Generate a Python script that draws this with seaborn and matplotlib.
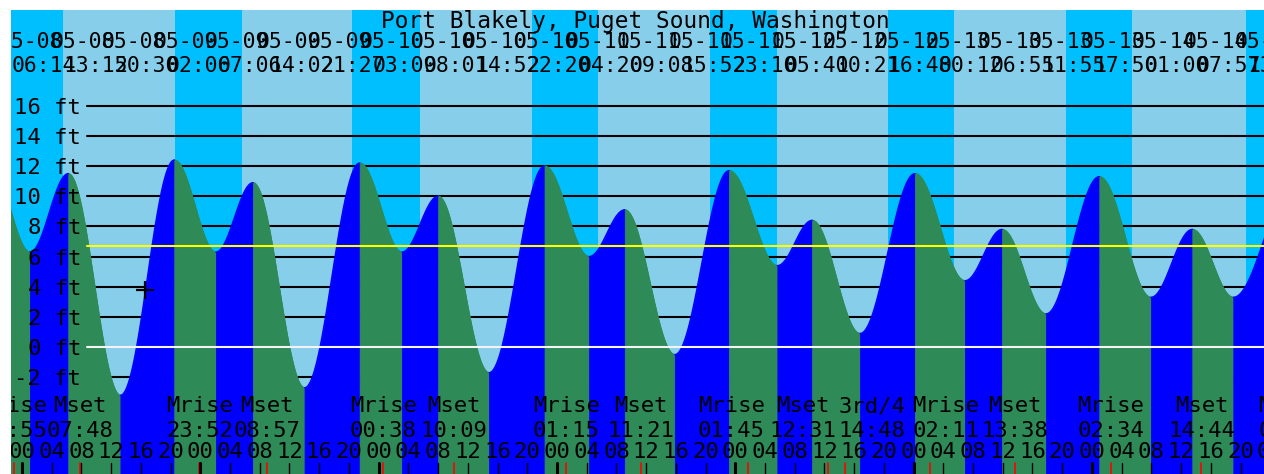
import numpy as np
import pandas as pd
import matplotlib
matplotlib.use("Agg")
import matplotlib.pyplot as plt
import matplotlib.transforms as mtrans
import seaborn as sns

# ---------------- data ----------------
station = "Port Blakely, Puget Sound, Washington"

# tide extremes (first and last lie just outside the plotted window)
tide_dates = ["05-07", "05-08", "05-08", "05-08", "05-08", "05-09", "05-09", "05-09",
              "05-09", "05-10", "05-10", "05-10", "05-10", "05-11", "05-11", "05-11",
              "05-11", "05-12", "05-12", "05-12", "05-13", "05-13", "05-13", "05-13",
              "05-14", "05-14", "05-14", "05-14", "05-15"]
tide_times = ["19:30", "01:05", "06:14", "13:15", "20:30", "02:06", "07:06", "14:02",
              "21:27", "03:09", "08:01", "14:52", "22:20", "04:20", "09:08", "15:52",
              "23:10", "05:40", "10:21", "16:48", "00:12", "06:55", "11:55", "17:50",
              "01:00", "07:57", "13:31", "19:02", "03:18"]
tide_heights = [12.5, 6.3, 11.5, -3.2, 12.4, 6.3, 10.9, -2.7,
                12.2, 6.3, 10.0, -1.7, 12.0, 6.0, 9.1, -0.5,
                11.7, 5.4, 8.4, 0.9, 11.5, 4.4, 7.8, 2.2,
                11.3, 3.3, 7.8, 3.3, 11.0]
# events whose date/time label is printed along the top (High 05-08 06:14 .. High 05-14 13:31)
labelled_first, labelled_last = 2, 26

moon_dates = ["05-07", "05-08", "05-08", "05-09", "05-10", "05-10", "05-11", "05-11",
              "05-12", "05-12", "05-12", "05-13", "05-13", "05-14", "05-14", "05-15"]
moon_times = ["22:55", "07:48", "23:52", "08:57", "00:38", "10:09", "01:15", "11:21",
              "01:45", "12:31", "14:48", "02:11", "13:38", "02:34", "14:44", "02:56"]
moon_events = ["Mrise", "Mset", "Mrise", "Mset", "Mrise", "Mset", "Mrise", "Mset",
               "Mrise", "Mset", "3rd/4", "Mrise", "Mset", "Mrise", "Mset", "Mrise"]

sun_dates = ["05-08", "05-09", "05-10", "05-11", "05-12", "05-13", "05-14"]
sunrise_times = ["05:31", "05:34", "05:34", "05:29", "05:38", "05:29", "05:22"]
sunset_times = ["20:35", "20:27", "20:36", "20:36", "20:36", "20:28", "20:42"]

level_ticks = [16, 14, 12, 10, 8, 6, 4, 2, 0, -2]
mean_level = 6.72
hour_labels = ["00", "04", "08", "12", "16", "20"]
mark_date, mark_time, mark_height = "05-08", "16:33", 3.8

# ---------------- helpers ----------------
def hrs(d, tm):
    day = int(d[3:])
    h, m = tm.split(":")
    return (day - 8) * 24 + int(h) + int(m) / 60.0

ev_t = np.array([hrs(d, t) for d, t in zip(tide_dates, tide_times)])
ev_h = np.array(tide_heights, dtype=float)

def curve_at(t):
    i = np.searchsorted(ev_t, t) - 1
    t0, t1, h0, h1 = ev_t[i], ev_t[i + 1], ev_h[i], ev_h[i + 1]
    ph = (t - t0) / (t1 - t0)
    return h0 + (h1 - h0) * (1 - np.cos(np.pi * ph)) / 2

# ---------------- figure ----------------
W, H = 1264, 474
sns.set_theme(style="white")
plt.rcParams["font.family"] = ["DejaVu Sans Mono", "DejaVu Sans"]
plt.rcParams["text.color"] = "black"

fig = plt.figure(figsize=(W / 100, H / 100), dpi=100)
ax_left, ax_top = 11, 10
AW, AH = W - ax_left, H - ax_top
ax = fig.add_axes([ax_left / W, 0, AW / W, AH / H])

DAY = "#87CEEB"
NIGHT = "#00BFFF"
FLOOD = "#0000FF"
EBB = "#2E8B57"

x0, x1 = -1.48, 167.16
y0, y1 = -8.42, 22.35
ax.set_facecolor(DAY)

def yfrac(ypx):
    return (H - ypx) / AH

def xfrac(xpx):
    return (xpx - ax_left) / AW

# night shading
sr = [hrs(d, t) for d, t in zip(sun_dates, sunrise_times)]
ss = [hrs(d, t) for d, t in zip(sun_dates, sunset_times)]
nights = [(x0 - 5, sr[0])] + [(ss[i], sr[i + 1]) for i in range(len(ss) - 1)] + [(ss[-1], x1 + 5)]
for a, b in nights:
    ax.axvspan(a, b, color=NIGHT, lw=0, zorder=0)

# grid lines (behind the water)
gx = xfrac(87)
for v in level_ticks:
    if v != 0:
        ax.axhline(v, xmin=gx, xmax=1, color="black", lw=1.5, zorder=1)

# tide curve segments (blue while rising, green while falling)
rows = []
for i in range(len(ev_t) - 1):
    t = np.linspace(ev_t[i], ev_t[i + 1], 80)
    h = curve_at(np.clip(t, ev_t[i] + 1e-9, ev_t[i + 1] - 1e-9))
    rising = ev_h[i + 1] > ev_h[i]
    col = FLOOD if rising else EBB
    ax.fill_between(t, h, y0 - 1, color=col, lw=0.6, edgecolor=col, zorder=2)
    for tt, hh in zip(t, h):
        rows.append((tt, hh, i, "flood" if rising else "ebb"))
df = pd.DataFrame(rows, columns=["t", "h", "seg", "dir"])
sns.lineplot(data=df, x="t", y="h", hue="dir", units="seg", estimator=None, sort=False,
             palette={"flood": FLOOD, "ebb": EBB}, legend=False, lw=1.0, ax=ax, zorder=3)

# datum and mean level lines
ax.axhline(mean_level, xmin=gx, xmax=1, color="#FFFF00", lw=1.5, zorder=4)
ax.axhline(0, xmin=gx, xmax=1, color="#F4F4F4", lw=1.5, zorder=4)

FS = 16
btr = mtrans.blended_transform_factory(ax.transAxes, ax.transData)
xtr = ax.get_xaxis_transform()

# level labels
for v in level_ticks:
    ax.text(xfrac(81), v, f"{v} ft", transform=btr, ha="right", va="center_baseline",
            fontsize=FS, color="black", zorder=6)

# title
ax.text(xfrac(635), yfrac(28), station, transform=ax.transAxes, ha="center",
        va="baseline", fontsize=16.4, color="black", zorder=6)

# tide event labels at top: spread evenly, each overlapping the next by one character
FS_TOP = 15.4
cw = 0.602 * FS_TOP * 100 / 72          # character advance in pixels
first_c, step = 31, 4 * cw
for k, i in enumerate(range(labelled_first, labelled_last + 1)):
    cx = first_c + step * k
    ax.text(xfrac(cx), yfrac(48), tide_dates[i], transform=ax.transAxes, ha="center",
            va="baseline", fontsize=FS_TOP, color="black", clip_on=True, zorder=6)
    ax.text(xfrac(cx + cw), yfrac(72), tide_times[i], transform=ax.transAxes, ha="center",
            va="baseline", fontsize=FS_TOP, color="black", clip_on=True, zorder=6)

# moon labels at bottom (a crowded group is nudged apart, in pixels)
nudge = {8: -17, 9: -25, 10: 27, 11: 16}
for j, (d, tm, name) in enumerate(zip(moon_dates, moon_times, moon_events)):
    t = hrs(d, tm)
    off = mtrans.offset_copy(xtr, fig=fig, x=nudge.get(j, 0), y=0, units="dots")
    ax.text(t, yfrac(412), name, transform=off, ha="center", va="baseline",
            fontsize=FS, color="black", clip_on=True, zorder=6)
    ax.text(t, yfrac(437), tm, transform=off, ha="center", va="baseline",
            fontsize=FS, color="black", clip_on=True, zorder=6)
    ax.axvline(t, ymin=0, ymax=11 / AH, color="red", lw=1.2, zorder=5)

# hour labels and ticks
for k, hh in enumerate(np.arange(0, 172, 4)):
    lab = hour_labels[k % 6]
    ax.text(hh, yfrac(458), lab, transform=xtr, ha="center", va="baseline",
            fontsize=FS, color="black", clip_on=True, zorder=6)
    ax.axvline(hh, ymin=0, ymax=11 / AH, color="black",
               lw=2.2 if hh % 24 == 0 else 1.0, zorder=5)

# current-time mark
mt = hrs(mark_date, mark_time)
sns.scatterplot(x=[mt], y=[mark_height], marker="+", s=170, color="black",
                linewidth=1.6, ax=ax, zorder=7)

ax.set_xlim(x0, x1)
ax.set_ylim(y0, y1)
ax.set_xticks([])
ax.set_yticks([])
ax.set_xlabel("")
ax.set_ylabel("")
for s in ax.spines.values():
    s.set_visible(False)

fig.savefig("out.png", dpi=100, facecolor="white")
